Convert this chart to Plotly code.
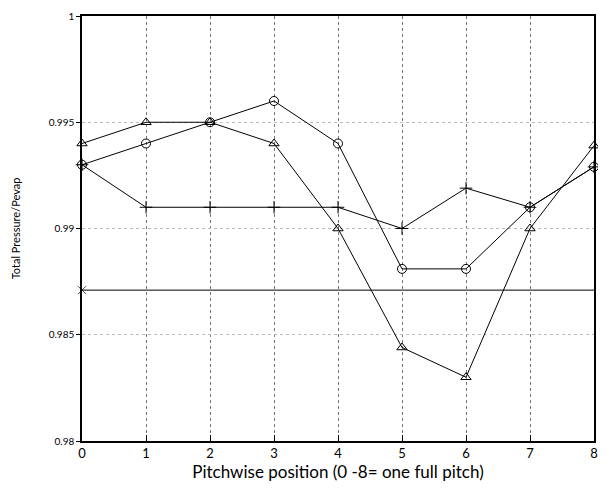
import plotly.graph_objects as go

x = [0, 1, 2, 3, 4, 5, 6, 7, 8]
triangles = [0.994, 0.995, 0.995, 0.994, 0.990, 0.9844, 0.9830, 0.990, 0.9939]
circles = [0.993, 0.994, 0.995, 0.996, 0.994, 0.9881, 0.9881, 0.991, 0.9929]
plus = [0.993, 0.991, 0.991, 0.991, 0.991, 0.9900, 0.9919, 0.991, 0.9929]
xline_x = [0, 8]
xline_y = [0.9871, 0.9871]
yticks = [0.98, 0.985, 0.99, 0.995, 1]
ytick_text = ["0.98", "0.985", "0.99", "0.995", "1"]

FONT = "Lato"
fig = go.Figure()
line = dict(color="black", width=1)
fig.add_trace(go.Scatter(x=x, y=triangles, mode="lines+markers", line=line, cliponaxis=False,
                         marker=dict(symbol="triangle-up-open", size=9, color="black", line=dict(width=1))))
fig.add_trace(go.Scatter(x=x, y=circles, mode="lines+markers", line=line, cliponaxis=False,
                         marker=dict(symbol="circle-open", size=9, color="black", line=dict(width=1))))
fig.add_trace(go.Scatter(x=x, y=plus, mode="lines+markers", line=line, cliponaxis=False,
                         marker=dict(symbol="cross-thin-open", size=9, color="black", line=dict(width=1))))
fig.add_trace(go.Scatter(x=xline_x, y=xline_y, mode="lines+markers", line=line, cliponaxis=False,
                         marker=dict(symbol="x-thin-open", size=[8, 0], color="black", line=dict(width=1))))

fig.update_layout(
    width=590, height=479,
    margin=dict(l=74, r=4, t=8, b=46),
    paper_bgcolor="white", plot_bgcolor="white",
    showlegend=False,
    font=dict(family=FONT, color="black"),
    xaxis=dict(range=[0, 8], tickvals=x, ticks="inside", ticklen=6, tickcolor="black",
               showline=True, linecolor="black", linewidth=1.5, mirror=True, automargin=False,
               showgrid=True, gridcolor="#777777", griddash="dot", gridwidth=1,
               zeroline=False, tickfont=dict(size=13, family=FONT),
               title=dict(text="Pitchwise position (0 -8= one full pitch)", font=dict(size=17, family=FONT), standoff=2)),
    yaxis=dict(range=[0.98, 1], tickvals=yticks, ticktext=ytick_text, ticks="outside", ticklen=4, tickcolor="black",
               showline=True, linecolor="black", linewidth=1.5, mirror=True, automargin=False,
               showgrid=True, gridcolor="#bbbbbb", griddash="dot", gridwidth=1,
               zeroline=False, tickfont=dict(size=10, family=FONT),
               title=dict(text="Total Pressure/Pevap", font=dict(size=11, family=FONT), standoff=26)),
)
fig.write_html("out.html")
